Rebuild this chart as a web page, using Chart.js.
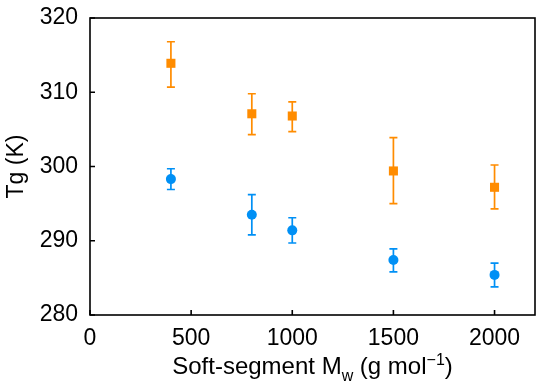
<!DOCTYPE html>
<html>
<head>
<meta charset="utf-8">
<script src="https://cdn.jsdelivr.net/npm/chart.js@4"></script>
<style>
  html, body { margin: 0; padding: 0; background: #fff; }
  #wrap { width: 550px; height: 392px; }
</style>
</head>
<body>
<div id="wrap"><canvas id="myChart" width="550" height="392"></canvas></div>
<script>
// soft-segment molecular weight (g/mol)
const mwValues = [400, 800, 1000, 1500, 2000];

// orange squares
const tgUpper = [313.9, 307.1, 306.8, 299.4, 297.2];
const tgUpperLow = [310.7, 304.3, 304.7, 295.0, 294.3];
const tgUpperHigh = [316.8, 309.8, 308.7, 303.9, 300.2];

// blue circles
const tgLower = [298.3, 293.5, 291.4, 287.4, 285.4];
const tgLowerLow = [296.9, 290.8, 289.7, 285.8, 283.8];
const tgLowerHigh = [299.7, 296.2, 293.1, 288.9, 287.0];

const xTicks = [0, 500, 1000, 1500, 2000];
const yTicks = [280, 290, 300, 310, 320];

const orange = "#ff8c00";
const blue = "#0090f5";
const fontFamily = "'Liberation Sans', Arial, sans-serif";

function points(ys, lows, highs) {
  return mwValues.map((x, i) => ({ x: x, y: ys[i], lo: lows[i], hi: highs[i] }));
}

// error bars, drawn under the markers
const errorBars = {
  id: "errorBars",
  beforeDatasetsDraw(chart) {
    const { ctx, scales } = chart;
    chart.data.datasets.forEach((ds) => {
      ctx.save();
      ctx.strokeStyle = ds.borderColor;
      ctx.lineWidth = 1.7;
      ds.data.forEach((p) => {
        const px = scales.x.getPixelForValue(p.x);
        const top = scales.y.getPixelForValue(p.hi);
        const bot = scales.y.getPixelForValue(p.lo);
        ctx.beginPath();
        ctx.moveTo(px, top);
        ctx.lineTo(px, bot);
        ctx.moveTo(px - 4, top);
        ctx.lineTo(px + 4, top);
        ctx.moveTo(px - 4, bot);
        ctx.lineTo(px + 4, bot);
        ctx.stroke();
      });
      ctx.restore();
    });
  },
};

// box frame with inward ticks + x title with sub/superscript
const frame = {
  id: "frame",
  afterDraw(chart) {
    const { ctx, chartArea: a, scales } = chart;
    ctx.save();
    ctx.strokeStyle = "#000";
    ctx.lineWidth = 1.6;
    ctx.strokeRect(a.left, a.top, a.right - a.left, a.bottom - a.top);
    ctx.beginPath();
    xTicks.forEach((v) => {
      const px = scales.x.getPixelForValue(v);
      ctx.moveTo(px, a.bottom);
      ctx.lineTo(px, a.bottom - 5);
    });
    yTicks.forEach((v) => {
      const py = scales.y.getPixelForValue(v);
      ctx.moveTo(a.left, py);
      ctx.lineTo(a.left + 5, py);
    });
    ctx.stroke();

    // x axis title
    const big = "24px " + fontFamily;
    const small = "16px " + fontFamily;
    const parts = [
      { t: "Soft-segment M", f: big, dy: 0 },
      { t: "w", f: small, dy: 7 },
      { t: " (g mol", f: big, dy: 0 },
      { t: "\u22121", f: small, dy: -9 },
      { t: ")", f: big, dy: 0 },
    ];
    let total = 0;
    parts.forEach((p) => {
      ctx.font = p.f;
      p.w = ctx.measureText(p.t).width;
      total += p.w;
    });
    let x = (a.left + a.right) / 2 - total / 2;
    const base = 374;
    ctx.fillStyle = "#000";
    ctx.textBaseline = "alphabetic";
    ctx.textAlign = "left";
    parts.forEach((p) => {
      ctx.font = p.f;
      ctx.fillText(p.t, x, base + p.dy);
      x += p.w;
    });
    ctx.restore();
  },
};

const ctx = document.getElementById("myChart").getContext("2d");
const myChart = new Chart(ctx, {
  type: "scatter",
  data: {
    datasets: [
      {
        label: "upper",
        data: points(tgUpper, tgUpperLow, tgUpperHigh),
        pointStyle: "rect",
        pointRadius: 6.4,
        pointHoverRadius: 6.4,
        backgroundColor: orange,
        borderColor: orange,
        borderWidth: 0,
      },
      {
        label: "lower",
        data: points(tgLower, tgLowerLow, tgLowerHigh),
        pointStyle: "circle",
        pointRadius: 5,
        pointHoverRadius: 5,
        backgroundColor: blue,
        borderColor: blue,
        borderWidth: 0,
      },
    ],
  },
  options: {
    responsive: false,
    animation: false,
    layout: { padding: { top: 18, right: 15, left: 0, bottom: 0 } },
    plugins: {
      legend: { display: false },
      tooltip: { enabled: false },
    },
    scales: {
      x: {
        type: "linear",
        min: 0,
        max: 2200,
        grid: { display: false },
        border: { display: false },
        afterBuildTicks: (scale) => {
          scale.ticks = xTicks.map((v) => ({ value: v }));
        },
        afterFit: (scale) => {
          scale.height = 77;
        },
        ticks: {
          padding: 2,
          color: "#000",
          maxRotation: 0,
          callback: (value) => String(value),
          font: { family: fontFamily, size: 23 },
        },
      },
      y: {
        type: "linear",
        min: 280,
        max: 320,
        grid: { display: false },
        border: { display: false },
        afterBuildTicks: (scale) => {
          scale.ticks = yTicks.map((v) => ({ value: v }));
        },
        afterFit: (scale) => {
          scale.width = 90;
        },
        ticks: {
          padding: 4,
          color: "#000",
          callback: (value) => String(value),
          font: { family: fontFamily, size: 23 },
        },
        title: {
          display: true,
          text: "Tg (K)",
          color: "#000",
          padding: { top: 3, bottom: 0 },
          font: { family: fontFamily, size: 23 },
        },
      },
    },
  },
  plugins: [errorBars, frame],
});
</script>
</body>
</html>
